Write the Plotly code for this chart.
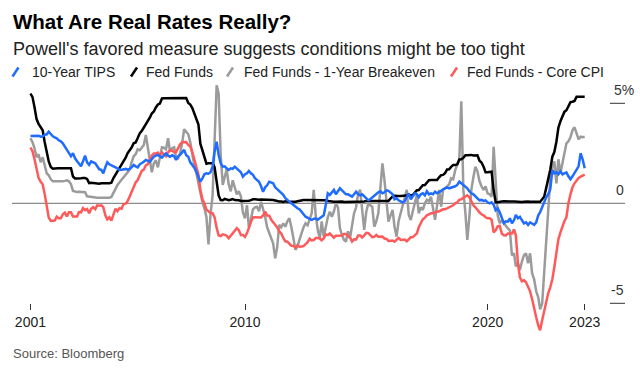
import datetime as dt
import pandas as pd
import plotly.graph_objects as go

# ---------------- data (monthly, Feb 2001 - Dec 2023) ----------------
START_MONTH = "2001-02"

TIPS_10Y = [
    3.37, 3.38, 3.36, 3.40, 3.38, 3.33, 3.35, 3.42, 3.45, 3.58, 3.45,          # 2001
    3.35, 3.30, 3.25, 3.15, 3.10, 3.00, 2.85, 2.70, 2.50, 2.35, 2.50, 2.25,    # 2002
    2.10, 1.95, 1.85, 2.10, 2.38, 2.05, 1.92, 2.10, 2.05, 2.00, 1.85, 1.70,    # 2003
    1.67, 1.50, 1.80, 2.05, 1.95, 1.92, 1.85, 1.80, 1.75, 1.67, 1.68, 1.70,    # 2004
    1.72, 1.68, 1.72, 1.80, 1.92, 1.85, 1.80, 1.95, 2.00, 2.08, 2.17, 2.12,    # 2005
    2.08, 2.20, 2.33, 2.38, 2.42, 2.35, 2.28, 2.40, 2.50, 2.38, 2.33, 2.40,    # 2006
    2.35, 2.17, 2.35, 2.42, 2.58, 2.67, 2.40, 2.33, 2.05, 1.92, 1.78, 1.58,    # 2007
    1.33, 1.08, 1.25, 1.45, 1.50, 1.48, 1.55, 1.83, 2.58, 3.08, 2.42, 2.00,    # 2008
    1.83, 1.85, 1.75, 1.67, 1.75, 1.72, 1.83, 1.75, 1.67, 1.55, 1.33, 1.45,    # 2009
    1.50, 1.62, 1.50, 1.42, 1.25, 1.15, 1.08, 0.85, 0.58, 0.80, 0.90, 1.08,    # 2010
    1.05, 1.00, 0.80, 0.70, 0.60, 0.50, 0.42, 0.25, 0.15, 0.08, 0.00, -0.08,   # 2011
    -0.20, -0.25, -0.30, -0.45, -0.55, -0.67, -0.72, -0.75, -0.83, -0.78, -0.75, -0.82,  # 2012
    -0.75, -0.70, -0.60, -0.08, 0.50, 0.42, 0.55, 0.67, 0.45, 0.60, 0.75, 0.65,  # 2013
    0.55, 0.45, 0.45, 0.40, 0.33, 0.45, 0.58, 0.45, 0.40, 0.45, 0.35, 0.25,    # 2014
    0.15, 0.20, 0.30, 0.40, 0.50, 0.55, 0.60, 0.50, 0.55, 0.65, 0.62, 0.55,    # 2015
    0.45, 0.20, 0.25, 0.15, 0.10, 0.05, 0.10, 0.35, 0.50, 0.20, 0.35, 0.50,    # 2016
    0.45, 0.30, 0.45, 0.50, 0.40, 0.60, 0.45, 0.50, 0.45, 0.58, 0.50, 0.55,    # 2017
    0.62, 0.70, 0.75, 0.80, 0.75, 0.78, 0.80, 0.85, 0.92, 1.08, 1.00, 0.92,    # 2018
    0.85, 0.75, 0.60, 0.50, 0.45, 0.33, 0.25, 0.15, 0.17, 0.12, 0.15, 0.05,    # 2019
    0.00, 0.05, -0.08, -0.35, -0.25, -0.45, -0.70, -1.00, -0.90, -0.92, -0.75, -1.00,  # 2020
    -0.85, -0.58, -0.75, -0.68, -0.85, -1.00, -0.95, -1.08, -0.95, -1.00, -1.08, -0.95,  # 2021
    -0.60, -0.45, -0.20, 0.10, 0.30, 0.45, 0.70, 1.65, 1.50, 1.55, 1.45, 1.60,  # 2022
    1.45, 1.50, 1.55, 1.35, 1.20, 1.35, 1.50, 1.65, 1.85, 2.50, 2.20, 1.75,    # 2023
]

FED_FUNDS = [
    5.49, 5.31, 4.80, 4.21, 3.97, 3.77, 3.65, 3.07, 2.49, 2.09, 1.82,          # 2001
    1.73, 1.74, 1.73, 1.75, 1.75, 1.75, 1.73, 1.74, 1.75, 1.75, 1.34, 1.24,    # 2002
    1.24, 1.26, 1.25, 1.26, 1.26, 1.22, 1.01, 1.03, 1.01, 1.01, 1.00, 0.98,    # 2003
    1.00, 1.01, 1.00, 1.00, 1.00, 1.03, 1.26, 1.43, 1.61, 1.76, 1.93, 2.16,    # 2004
    2.28, 2.50, 2.63, 2.79, 3.00, 3.04, 3.26, 3.50, 3.62, 3.78, 4.00, 4.16,    # 2005
    4.29, 4.49, 4.59, 4.79, 4.94, 4.99, 5.24, 5.25, 5.25, 5.25, 5.25, 5.24,    # 2006
    5.25, 5.26, 5.26, 5.25, 5.25, 5.25, 5.26, 5.02, 4.94, 4.76, 4.49, 4.24,    # 2007
    3.94, 2.98, 2.61, 2.28, 1.98, 2.00, 2.01, 2.00, 1.81, 0.97, 0.39, 0.16,    # 2008
    0.15, 0.22, 0.18, 0.15, 0.18, 0.21, 0.16, 0.16, 0.15, 0.12, 0.12, 0.12,    # 2009
    0.11, 0.13, 0.16, 0.20, 0.20, 0.18, 0.18, 0.19, 0.19, 0.19, 0.19, 0.18,    # 2010
    0.17, 0.16, 0.14, 0.10, 0.09, 0.09, 0.07, 0.10, 0.08, 0.07, 0.08, 0.07,    # 2011
    0.08, 0.10, 0.13, 0.14, 0.16, 0.16, 0.16, 0.13, 0.14, 0.16, 0.16, 0.16,    # 2012
    0.14, 0.15, 0.14, 0.15, 0.11, 0.09, 0.09, 0.08, 0.08, 0.09, 0.08, 0.09,    # 2013
    0.07, 0.07, 0.08, 0.09, 0.09, 0.10, 0.09, 0.09, 0.09, 0.09, 0.09, 0.12,    # 2014
    0.11, 0.11, 0.11, 0.12, 0.12, 0.13, 0.13, 0.14, 0.14, 0.12, 0.12, 0.24,    # 2015
    0.34, 0.38, 0.36, 0.37, 0.37, 0.38, 0.39, 0.40, 0.40, 0.40, 0.41, 0.54,    # 2016
    0.65, 0.66, 0.79, 0.90, 0.91, 1.04, 1.15, 1.16, 1.15, 1.15, 1.16, 1.30,    # 2017
    1.41, 1.42, 1.51, 1.69, 1.70, 1.82, 1.91, 1.91, 1.95, 2.19, 2.20, 2.27,    # 2018
    2.40, 2.40, 2.41, 2.42, 2.39, 2.38, 2.40, 2.13, 2.04, 1.83, 1.55, 1.55,    # 2019
    1.55, 1.58, 0.65, 0.05, 0.05, 0.08, 0.09, 0.10, 0.09, 0.09, 0.09, 0.09,    # 2020
    0.09, 0.08, 0.07, 0.07, 0.06, 0.08, 0.10, 0.09, 0.08, 0.08, 0.08, 0.08,    # 2021
    0.08, 0.08, 0.20, 0.33, 0.77, 1.21, 1.68, 2.33, 2.56, 3.08, 3.78, 4.10,    # 2022
    4.33, 4.57, 4.65, 4.83, 5.06, 5.08, 5.12, 5.33, 5.33, 5.33, 5.33, 5.33,    # 2023
]

FF_MINUS_BREAKEVEN = [
    3.25, 3.05, 2.75, 2.30, 2.45, 2.05, 2.30, 1.90, 1.50, 1.40, 1.20,          # 2001
    1.10, 1.10, 1.08, 1.10, 1.08, 1.10, 1.12, 1.15, 1.10, 0.95, 0.62, 0.58,    # 2002
    0.57, 0.58, 0.56, 0.57, 0.55, 0.35, 0.33, 0.32, 0.30, 0.28, 0.28, 0.28,    # 2003
    0.28, 0.28, 0.28, 0.28, 0.28, 0.32, 0.55, 0.75, 0.92, 1.05, 1.17, 1.30,    # 2004
    1.42, 1.55, 1.67, 2.05, 2.35, 2.45, 2.70, 2.65, 2.80, 2.92, 3.42, 2.75,    # 2005
    2.08, 1.55, 2.00, 2.15, 1.80, 2.35, 2.80, 2.78, 2.70, 3.25, 2.58, 2.75,    # 2006
    2.80, 2.30, 2.25, 2.50, 3.00, 3.70, 3.60, 3.45, 3.05, 2.45, 1.90, 1.50,    # 2007
    0.95, 0.50, 0.05, -0.25, -0.70, -2.05, -0.55, 0.40, 2.95, 5.90, 5.50, 2.40,  # 2008
    0.92, 1.30, 1.70, 0.95, 0.60, 1.15, 0.85, 0.45, 0.60, 0.35, -0.45, -0.75,  # 2009
    -0.10, -1.20, -0.80, -0.30, -0.20, -0.17, -0.40, 0.08, -0.30, -0.67, -1.20, -1.50,  # 2010
    -1.70, -2.00, -2.75, -2.20, -1.08, -1.20, -1.00, -1.17, -0.90, -0.75, -1.20, -1.83,  # 2011
    -2.33, -2.15, -1.75, -1.50, -1.20, -1.00, -1.10, -0.80, -0.50, 0.67, -0.60, -1.33,   # 2012
    -1.75, -0.90, -1.67, -1.20, -0.70, -0.42, -0.67, -0.40, 0.00, -0.20, -1.25, -1.60,   # 2013
    -1.83, -1.92, -1.40, -1.75, -1.20, -0.50, -0.20, 0.50, 0.67, -0.20, -1.33, -0.42,    # 2014
    0.00, -0.10, -0.17, -1.17, -0.90, -0.50, 0.83, 2.00, 1.17, 0.00, -0.92, -0.60,       # 2015
    -0.33, -1.17, -1.67, -0.90, -0.50, -0.20, 0.17, 0.67, -0.58, -0.83, -0.40, 0.00,     # 2016
    0.42, -0.50, -0.20, -0.33, 0.00, 0.17, 0.10, 0.33, -0.20, -0.83, -0.10, 0.67,        # 2017
    -0.17, 0.67, 0.75, 0.83, 0.95, 1.25, 1.20, 1.67, 1.90, 2.17, 5.10, 0.67,             # 2018
    -0.50, -1.83, -0.70, 0.67, 1.30, 1.83, 1.60, 1.10, 0.85, 0.67, 0.85, 0.50,           # 2019
    0.45, 0.33, 2.83, 0.80, -0.60, -1.00, -0.85, -1.00, -1.15, -1.25, -1.35, -2.60,      # 2020
    -2.50, -3.15, -3.00, -3.33, -2.90, -2.60, -2.50, -3.00, -2.50, -3.50, -3.80, -4.40,  # 2021
    -4.70, -5.30, -5.00, -3.60, -1.80, -0.30, 1.20, 1.80, 2.10, 1.00, 2.20, 1.50,        # 2022
    2.00, 2.50, 3.00, 3.10, 3.30, 3.65, 3.80, 3.50, 3.20, 3.33, 3.30, 3.33,              # 2023
]

FF_MINUS_CORE_CPI = [
    2.79, 2.61, 2.20, 1.71, 1.27, 1.07, 0.95, 0.47, -0.11, -0.71, -0.88,       # 2001
    -0.87, -0.86, -0.67, -0.75, -0.75, -0.55, -0.47, -0.66, -0.45, -0.45, -0.66, -0.66,  # 2002
    -0.66, -0.44, -0.45, -0.24, -0.34, -0.28, -0.49, -0.27, -0.19, -0.29, -0.10, -0.12,  # 2003
    -0.10, -0.19, -0.60, -0.80, -0.70, -0.87, -0.54, -0.27, -0.39, -0.24, -0.27, -0.04,  # 2004
    -0.02, 0.10, 0.33, 0.59, 0.80, 1.04, 1.16, 1.40, 1.62, 1.68, 1.90, 1.96,   # 2005
    2.19, 2.39, 2.49, 2.49, 2.54, 2.39, 2.54, 2.45, 2.35, 2.55, 2.65, 2.64,    # 2006
    2.55, 2.56, 2.76, 2.95, 3.05, 3.05, 3.06, 2.92, 2.84, 2.56, 2.19, 1.84,    # 2007
    1.44, 0.68, 0.21, -0.02, -0.32, -0.40, -0.49, -0.50, -0.69, -1.23, -1.61, -1.64,     # 2008
    -1.55, -1.58, -1.62, -1.75, -1.62, -1.49, -1.34, -1.24, -1.35, -1.58, -1.58, -1.68,  # 2009
    -1.49, -1.17, -0.94, -0.70, -0.70, -0.72, -0.72, -0.71, -0.61, -0.41, -0.61, -0.62,  # 2010
    -0.83, -0.94, -1.06, -1.20, -1.41, -1.51, -1.73, -1.90, -1.92, -2.03, -2.12, -2.13,  # 2011
    -2.22, -2.10, -2.17, -2.16, -2.14, -2.04, -1.94, -1.77, -1.86, -1.84, -1.74, -1.74,  # 2012
    -1.76, -1.85, -1.76, -1.55, -1.59, -1.51, -1.61, -1.72, -1.62, -1.61, -1.62, -1.61,  # 2013
    -1.53, -1.53, -1.62, -1.71, -1.91, -1.80, -1.81, -1.61, -1.61, -1.71, -1.61, -1.48,  # 2014
    -1.49, -1.59, -1.69, -1.68, -1.58, -1.67, -1.67, -1.66, -1.76, -1.78, -1.88, -1.86,  # 2015
    -1.86, -1.92, -1.84, -1.73, -1.83, -1.82, -1.81, -1.90, -1.80, -1.70, -1.69, -1.60,  # 2016
    -1.50, -1.20, -0.95, -0.80, -0.72, -0.60, -0.55, -0.50, -0.50, -0.45, -0.42, -0.40,  # 2017
    -0.35, -0.30, -0.30, -0.25, -0.20, -0.15, -0.10, 0.00, 0.05, 0.17, 0.20, 0.28,       # 2018
    0.33, 0.40, 0.30, 0.10, -0.10, -0.20, -0.30, -0.45, -0.55, -0.60, -0.70, -0.75,      # 2019
    -0.75, -0.82, -1.45, -1.35, -1.15, -1.12, -1.51, -1.60, -1.61, -1.51, -1.51, -1.51,  # 2020
    -1.31, -1.60, -3.00, -3.70, -3.90, -3.85, -3.95, -4.20, -4.40, -4.80, -5.30, -5.70,  # 2021
    -6.10, -6.35, -5.85, -5.40, -4.90, -4.50, -4.20, -3.80, -3.20, -2.40, -1.80, -1.45,  # 2022
    -1.15, -0.90, -0.70, 0.00, 0.45, 0.80, 1.00, 1.15, 1.27, 1.33, 1.38, 1.43,           # 2023
]

SERIES_NAMES = ["10-Year TIPS", "Fed Funds", "Fed Funds - 1-Year Breakeven", "Fed Funds - Core CPI"]
X_TICK_TEXT = ["2001", "2010", "2020", "2023"]
Y_TICK_VALUES = [5, 0, -5]
Y_TICK_TEXT = ["5%", "0", "-5"]

TITLE = "What Are Real Rates Really?"
SUBTITLE = "Powell's favored measure suggests conditions might be too tight"
SOURCE = "Source: Bloomberg"

# ---------------- layout / style ----------------
W, H = 640, 376
PLOT_L, PLOT_R = 12, 625          # plot area, pixels
PLOT_T, PLOT_B = 80, 335
ZERO_PX, PX_PER_UNIT = 203.3, 20.0
YEAR0_PX, PX_PER_YEAR = 26.6, 24.27   # pixel of 2001-01-01, pixels per year

FONT = "Liberation Sans, Arial, Helvetica, sans-serif"
BLUE, BLACK, GRAY, RED = "#1f6cff", "#000000", "#9b9b9b", "#ff5a5a"
COLORS = [BLUE, BLACK, GRAY, RED]

n = len(FED_FUNDS)
assert len(TIPS_10Y) == n and len(FF_MINUS_BREAKEVEN) == n and len(FF_MINUS_CORE_CPI) == n, \
    (len(TIPS_10Y), n, len(FF_MINUS_BREAKEVEN), len(FF_MINUS_CORE_CPI))
dates = pd.period_range(START_MONTH, periods=n, freq="M").to_timestamp(how="end").normalize()


def px_to_date(px):
    return dt.datetime(2001, 1, 1) + dt.timedelta(days=(px - YEAR0_PX) / PX_PER_YEAR * 365.25)


def px_to_val(py):
    return (ZERO_PX - py) / PX_PER_UNIT


def pxx(px):
    return (px - PLOT_L) / (PLOT_R - PLOT_L)


def pxy(py):
    return (PLOT_B - py) / (PLOT_B - PLOT_T)


y_max, y_min = px_to_val(PLOT_T), px_to_val(PLOT_B)

fig = go.Figure()
values = [TIPS_10Y, FED_FUNDS, FF_MINUS_BREAKEVEN, FF_MINUS_CORE_CPI]
for idx in [2, 3, 1, 0]:  # draw order: gray, red, black, blue on top
    fig.add_trace(go.Scatter(
        x=dates, y=values[idx], mode="lines", name=SERIES_NAMES[idx],
        line=dict(color=COLORS[idx], width=2.5), hoverinfo="skip", showlegend=False,
    ))

shapes = [
    dict(type="line", xref="paper", yref="y", x0=0, x1=1, y0=0, y1=0,
         line=dict(color="#6e6e6e", width=1), layer="below"),
]
for v in [5, -5]:
    shapes.append(dict(type="line", xref="paper", yref="y", x0=pxx(610), x1=1, y0=v, y1=v,
                       line=dict(color="#333333", width=1), layer="below"))

annotations = [
    dict(text=f"<b>{TITLE}</b>", x=pxx(11), y=pxy(21.5), xref="paper", yref="paper",
         xanchor="left", yanchor="middle", showarrow=False,
         font=dict(family=FONT, size=20.5, color="#000000")),
    dict(text=SUBTITLE, x=pxx(11), y=pxy(48.5), xref="paper", yref="paper",
         xanchor="left", yanchor="middle", showarrow=False,
         font=dict(family=FONT, size=18, color="#222222")),
    dict(text=SOURCE, x=pxx(11), y=pxy(353), xref="paper", yref="paper",
         xanchor="left", yanchor="middle", showarrow=False,
         font=dict(family=FONT, size=13, color="#555555")),
]

# legend (manual: slash marker + label)
legend_slash_cx = [15.5, 134.0, 230.0, 454.0]
legend_text_x = [30.0, 144.0, 242.0, 465.0]
LEG_Y = 72.0
for name, col, cx, tx in zip(SERIES_NAMES, COLORS, legend_slash_cx, legend_text_x):
    shapes.append(dict(type="line", xref="paper", yref="paper",
                       x0=pxx(cx - 3), y0=pxy(LEG_Y + 4.5), x1=pxx(cx + 3), y1=pxy(LEG_Y - 4.5),
                       line=dict(color=col, width=2.5)))
    annotations.append(dict(text=name, x=pxx(tx), y=pxy(LEG_Y), xref="paper", yref="paper",
                            xanchor="left", yanchor="middle", showarrow=False,
                            font=dict(family=FONT, size=14, color="#222222")))

# right-hand value labels above their tick lines
for v, t in zip(Y_TICK_VALUES, Y_TICK_TEXT):
    if t.endswith("%"):
        annotations.append(dict(text=t, x=pxx(612), xanchor="left", y=v, yref="y", xref="paper",
                                yshift=13.5, yanchor="middle", showarrow=False,
                                font=dict(family=FONT, size=14, color="#333333")))
    else:
        annotations.append(dict(text=t, x=pxx(626), xanchor="right", y=v, yref="y", xref="paper",
                                yshift=13.5, yanchor="middle", showarrow=False,
                                font=dict(family=FONT, size=14, color="#333333")))

tickvals = [dates[0], pd.Timestamp("2010-01-01"), pd.Timestamp("2020-01-01"), dates[-1]]

fig.update_layout(
    width=W, height=H,
    margin=dict(l=PLOT_L, r=W - PLOT_R, t=PLOT_T, b=H - PLOT_B, pad=0),
    paper_bgcolor="white", plot_bgcolor="white",
    showlegend=False,
    font=dict(family=FONT, color="#222222"),
    xaxis=dict(
        type="date", range=[px_to_date(PLOT_L), px_to_date(PLOT_R)],
        tickmode="array", tickvals=tickvals, ticktext=X_TICK_TEXT,
        ticks="outside", ticklen=6, tickwidth=1, tickcolor="#333333",
        tickfont=dict(family=FONT, size=14, color="#222222"),
        showgrid=False, zeroline=False, showline=False,
        anchor="free", position=(-5 - y_min) / (y_max - y_min),
        fixedrange=True,
    ),
    yaxis=dict(
        range=[y_min, y_max], visible=False, showgrid=False, zeroline=False, fixedrange=True,
    ),
    shapes=shapes,
    annotations=annotations,
)

fig.write_html(
    "out.html",
    config={"displayModeBar": False},
    post_script="document.body.style.margin='0px';document.body.style.padding='0px';",
)
